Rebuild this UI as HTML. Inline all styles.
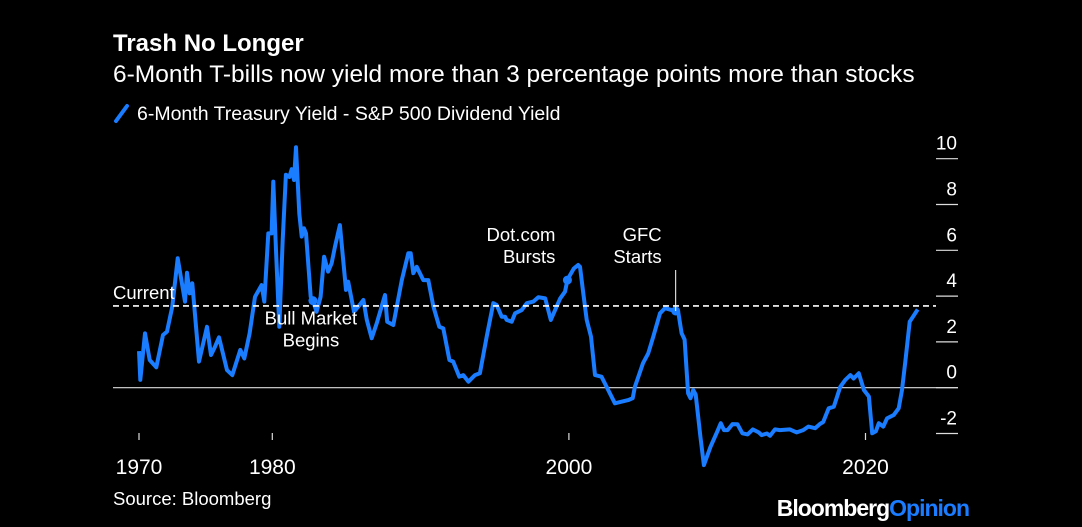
<!DOCTYPE html>
<html><head><meta charset="utf-8">
<style>
html,body{margin:0;padding:0;background:#000;width:1082px;height:527px;overflow:hidden}
svg{display:block}
text{font-family:"Liberation Sans",Arial,sans-serif;fill:#fff}
</style></head>
<body>
<svg width="1082" height="527" viewBox="0 0 1082 527">
<text x="113" y="51" font-size="24" font-weight="bold">Trash No Longer</text>
<text x="113" y="82" font-size="24.5">6-Month T-bills now yield more than 3 percentage points more than stocks</text>
<g>
<line x1="116" y1="121" x2="127" y2="106" stroke="#1a7cff" stroke-width="4" stroke-linecap="round"/>
<text x="137" y="120" font-size="19.5">6-Month Treasury Yield - S&amp;P 500 Dividend Yield</text>
</g>
<g id="axes"></g>
<g id="series"></g>
<g id="annots"></g>
<text x="113" y="505" font-size="18.5">Source: Bloomberg</text>
<text x="969" y="516" font-size="23" font-weight="bold" text-anchor="end" letter-spacing="-1">Bloomberg<tspan fill="#1a7cff">Opinion</tspan></text>
</svg>
<script>
const years=[1970,1970.1,1970.45,1970.8,1971.3,1971.8,1972.1,1972.5,1972.9,1973.45,1973.6,1973.8,1974.0,1974.15,1974.5,1975.1,1975.4,1975.7,1976.0,1976.6,1977.0,1977.6,1977.9,1978.3,1978.7,1979.2,1979.4,1979.7,1979.95,1980.07,1980.25,1980.47,1980.7,1980.92,1981.15,1981.31,1981.46,1981.6,1981.82,1981.98,1982.14,1982.27,1982.59,1982.74,1982.99,1983.26,1983.49,1983.76,1984.0,1984.23,1984.56,1984.97,1985.12,1985.51,1985.8,1986.14,1986.37,1986.7,1987.04,1987.6,1987.75,1988.16,1988.73,1989.17,1989.33,1989.51,1989.74,1990.18,1990.52,1990.86,1991.26,1991.53,1991.94,1992.2,1992.61,1992.88,1993.22,1993.67,1994.0,1994.46,1994.9,1995.13,1995.47,1995.7,1995.8,1996.14,1996.37,1996.82,1997.16,1997.6,1997.94,1998.4,1998.78,1999.07,1999.41,1999.74,1999.9,2000.08,2000.34,2000.63,2000.75,2000.97,2001.2,2001.49,2001.76,2002.2,2002.65,2003.1,2003.55,2004.0,2004.3,2004.45,2005.0,2005.35,2005.69,2006.14,2006.48,2006.93,2007.37,2007.6,2007.8,2008.04,2008.2,2008.38,2008.55,2008.87,2009.1,2009.55,2010.0,2010.24,2010.46,2010.7,2011.03,2011.37,2011.7,2012.05,2012.4,2012.8,2013.0,2013.35,2013.56,2013.9,2014.23,2014.9,2015.36,2015.8,2016.14,2016.6,2016.92,2017.15,2017.52,2017.86,2018.3,2018.64,2018.98,2019.2,2019.55,2019.89,2020.23,2020.45,2020.7,2020.9,2021.2,2021.45,2021.9,2022.24,2022.46,2022.7,2022.98,2023.2,2023.52];
const spread=[1.6,0.34,2.37,1.21,0.89,2.3,2.45,3.54,5.65,3.76,5.02,4.12,4.56,3.54,1.14,2.66,1.43,1.79,2.2,0.77,0.55,1.65,1.28,2.37,3.97,4.48,3.76,6.74,6.74,9.0,6.0,2.66,6.45,9.3,9.2,9.54,9.07,10.5,7.6,6.6,6.96,6.74,3.97,3.8,3.32,3.97,5.72,5.07,5.43,6.16,7.1,4.27,4.63,3.32,3.54,3.83,2.96,2.16,2.81,4.05,2.88,2.74,4.7,5.87,5.87,5.0,5.28,4.7,4.7,3.54,2.66,2.59,1.21,1.14,0.48,0.55,0.26,0.55,0.63,2.23,3.69,3.61,3.1,3.1,2.96,2.88,3.25,3.39,3.69,3.76,3.95,3.9,2.96,3.39,3.9,4.19,4.7,4.92,5.21,5.36,5.28,4.12,2.96,2.23,0.55,0.48,-0.1,-0.68,-0.61,-0.54,-0.46,0.04,1.07,1.5,2.23,3.25,3.47,3.39,3.32,2.38,2.1,-0.25,-0.46,-0.1,-0.3,-2.14,-3.38,-2.58,-1.92,-1.55,-1.85,-1.85,-1.59,-1.6,-1.99,-2.04,-1.82,-1.95,-2.07,-2.0,-2.1,-1.82,-1.85,-1.82,-1.95,-1.85,-1.7,-1.77,-1.59,-1.5,-0.9,-0.83,0.04,0.34,0.55,0.4,0.63,-0.1,-0.39,-1.99,-1.9,-1.55,-1.7,-1.34,-1.19,-0.9,-0.1,1.21,2.88,3.1,3.42];
const yTicks=[10,8,6,4,2,0,-2];
const yTickLabels=["10","8","6","4","2","0","-2"];
const xTicks=[1970,1980,2000,2020];
const xTickLabels=["1970","1980","2000","2020"];
const currentValue=3.57;
const events=[{label:["Bull Market","Begins"],year:1982.74,value:3.8},{label:["Dot.com","Bursts"],year:1999.9,value:4.7},{label:["GFC","Starts"],year:2007.2,value:3.35}];

const NS="http://www.w3.org/2000/svg";
const xd=[1970,1980,2030],xr=[139,272.3,272.3+50*14.83];
function x(v){for(let i=0;i<xd.length-1;i++){if(v<=xd[i+1]||i==xd.length-2){return xr[i]+(v-xd[i])*(xr[i+1]-xr[i])/(xd[i+1]-xd[i]);}}}
function y(v){return 387.7-22.9*v;}
function mk(tag,attrs,parent){const e=document.createElementNS(NS,tag);for(const k in attrs)e.setAttribute(k,attrs[k]);parent.appendChild(e);return e;}
const axes=document.getElementById('axes'),series=document.getElementById('series'),ann=document.getElementById('annots');
yTicks.forEach((t,i)=>{
  const ln=mk('line',{x1:936,x2:958,y1:y(t),y2:y(t),stroke:'#ddd','stroke-width':1.2},axes);
  
  
  const tx=mk('text',{x:957,y:y(t)-9,'font-size':19,'text-anchor':'end'},axes);
  tx.textContent=yTickLabels[i];
  
  
});
const zl=mk('line',{x1:113,x2:958,y1:y(0),y2:y(0),stroke:'#ddd','stroke-width':1.2},axes);


xTicks.forEach((t,i)=>{
  const ln=mk('line',{x1:x(t),x2:x(t),y1:433,y2:440,stroke:'#ddd','stroke-width':1.2},axes);
  
  
  const tx=mk('text',{x:x(t),y:474,'font-size':21,'text-anchor':'middle'},axes);
  tx.textContent=xTickLabels[i];
  
  
});
const cl=mk('line',{x1:113,x2:936,y1:y(currentValue),y2:y(currentValue),stroke:'#fff','stroke-width':1.6,'stroke-dasharray':'6,4'},ann);


const ct=mk('text',{x:113,y:y(currentValue)-7,'font-size':18.5},ann);
ct.textContent='Current';


let d='';years.forEach((yr,i)=>{d+=(i?'L':'M')+x(yr).toFixed(1)+','+y(spread[i]).toFixed(1);});
const p=mk('path',{d:d,fill:'none',stroke:'#1a7cff','stroke-width':4,'stroke-linejoin':'round'},series);


events.forEach((e,i)=>{
  const c=mk('circle',{cx:x(e.year),cy:y(e.value),r:4.5,fill:'#1a7cff'},series);
  
  
});
function lbl(lines,xx,yy,anchor,name){const t=mk('text',{x:xx,y:yy,'font-size':18.5,'text-anchor':anchor},ann);
 lines.forEach((s,i)=>{const ts=mk('tspan',{x:xx,dy:i?22:0},t);ts.textContent=s;});
 
 }
lbl(events[0].label,x(events[0].year)-2,y(events[0].value)+24,'middle','bull-market-annotation');
lbl(events[1].label,x(events[1].year)-12,y(events[1].value)-39,'end','dotcom-annotation');
lbl(events[2].label,x(events[2].year)-14,y(events[2].value)-70,'end','gfc-annotation');
const gl=mk('line',{x1:x(events[2].year),x2:x(events[2].year),y1:270,y2:y(events[2].value),stroke:'#fff','stroke-width':1},ann);


</script>
</body></html>
